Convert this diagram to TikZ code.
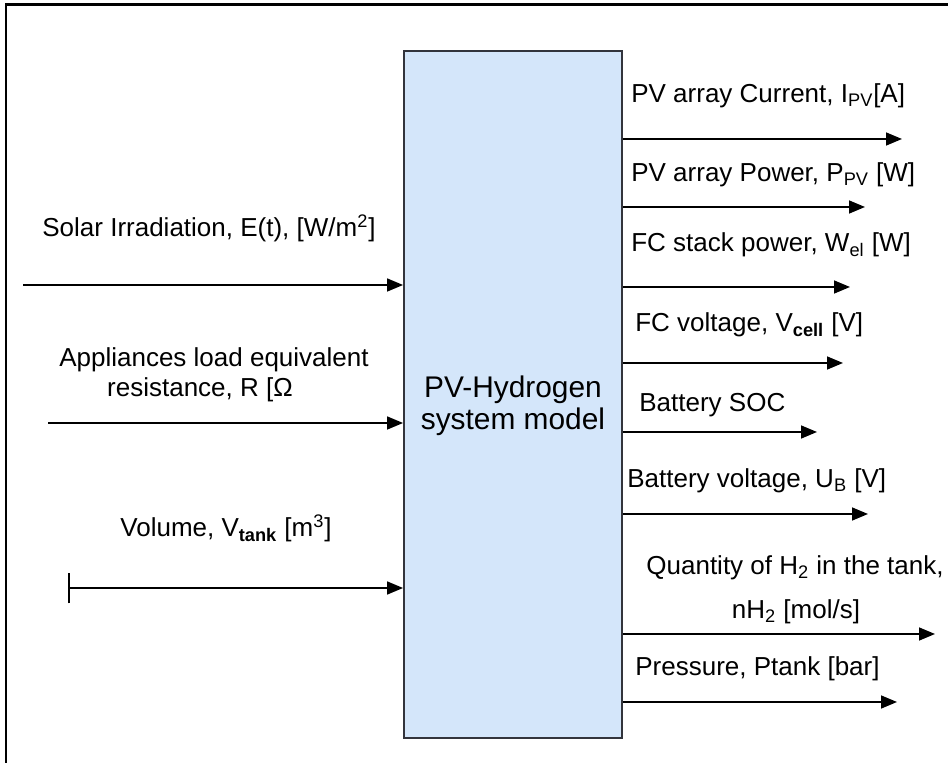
\documentclass[tikz,border=0pt]{standalone}
\usepackage{fontspec}
\setmainfont{Liberation Sans}
\usetikzlibrary{arrows.meta, positioning}
\definecolor{modelblue}{RGB}{212, 230, 250}
\definecolor{modeledge}{RGB}{50, 52, 60}

\begin{document}
\begin{tikzpicture}[
  x=0.02cm, y=-0.02cm,
  modelbox/.style={draw=modeledge, line width=1.1pt, fill=modelblue, minimum width=4.36cm, minimum height=13.74cm, inner sep=0pt},
  flow/.style={line width=0.9pt, -{Triangle[length=0.32cm, width=0.26cm]}},
  lbl/.style={font=\fontsize{14.8}{17}\selectfont, inner sep=0pt, anchor=base west},
  clbl/.style={lbl, anchor=base}
]
  \useasboundingbox (0,0) rectangle (948,763);
  \draw[line width=1.7pt] (6,763) -- (6,4.5) -- (948,4.5);

  \node[modelbox] (model) at (513,394.5) {};
  \node[clbl, font=\fontsize{17}{20}\selectfont] (modelA) at (513,398) {PV-Hydrogen};
  \node[clbl, font=\fontsize{17}{20}\selectfont] (modelB) at (513,430) {system model};

  % inputs
  \coordinate (solar) at (23,285);
  \coordinate (load) at (48,423);
  \coordinate (volume) at (68,588);
  \draw[flow] (solar) -- (solar -| model.west);
  \draw[flow] (load) -- (load -| model.west);
  \draw[line width=0.9pt, {Bar[width=0.62cm, line width=1.2pt]}-{Triangle[length=0.32cm, width=0.26cm]}] (volume) -- (volume -| model.west);
  \node[clbl] (solarlbl) at (209,237) {Solar Irradiation, E(t), [W/m\textsuperscript{2}]};
  \node[clbl] (loadA) at (214,367) {Appliances load equivalent};
  \node[clbl] (loadB) at (200,397) {resistance, R [Ω};
  \node[clbl] (volumelbl) at (226,537) {Volume, V\textsubscript{\textbf{tank}} [m\textsuperscript{3}]};

  % outputs
  \coordinate (ipv) at (902,139);
  \coordinate (ppv) at (865,207);
  \coordinate (wel) at (850,287);
  \coordinate (vcell) at (843,363);
  \coordinate (soc) at (817,432);
  \coordinate (ub) at (868,514);
  \coordinate (nhtwo) at (935,634);
  \coordinate (ptank) at (897,702);
  \draw[flow] (ipv -| model.east) -- (ipv);
  \draw[flow] (ppv -| model.east) -- (ppv);
  \draw[flow] (wel -| model.east) -- (wel);
  \draw[flow] (vcell -| model.east) -- (vcell);
  \draw[flow] (soc -| model.east) -- (soc);
  \draw[flow] (ub -| model.east) -- (ub);
  \draw[flow] (nhtwo -| model.east) -- (nhtwo);
  \draw[flow] (ptank -| model.east) -- (ptank);
  \node[lbl] (ipvlbl) at (631,103) {PV array Current, I\textsubscript{PV}[A]};
  \node[lbl] (ppvlbl) at (631,182) {PV array Power, P\textsubscript{PV} [W]};
  \node[lbl] (wellbl) at (631,252) {FC stack power, W\textsubscript{el} [W]};
  \node[lbl] (vcelllbl) at (635,332) {FC voltage, V\textsubscript{\textbf{cell}} [V]};
  \node[lbl] (soclbl) at (639,412) {Battery SOC};
  \node[lbl] (ublbl) at (627,488) {Battery voltage, U\textsubscript{B} [V]};
  \node[clbl] (nhtwoA) at (795,575) {Quantity of H\textsubscript{2} in the tank,};
  \node[clbl] (nhtwoB) at (796,619) {nH\textsubscript{2} [mol/s]};
  \node[lbl] (ptanklbl) at (635,676) {Pressure, Ptank [bar]};
\end{tikzpicture}
\end{document}
